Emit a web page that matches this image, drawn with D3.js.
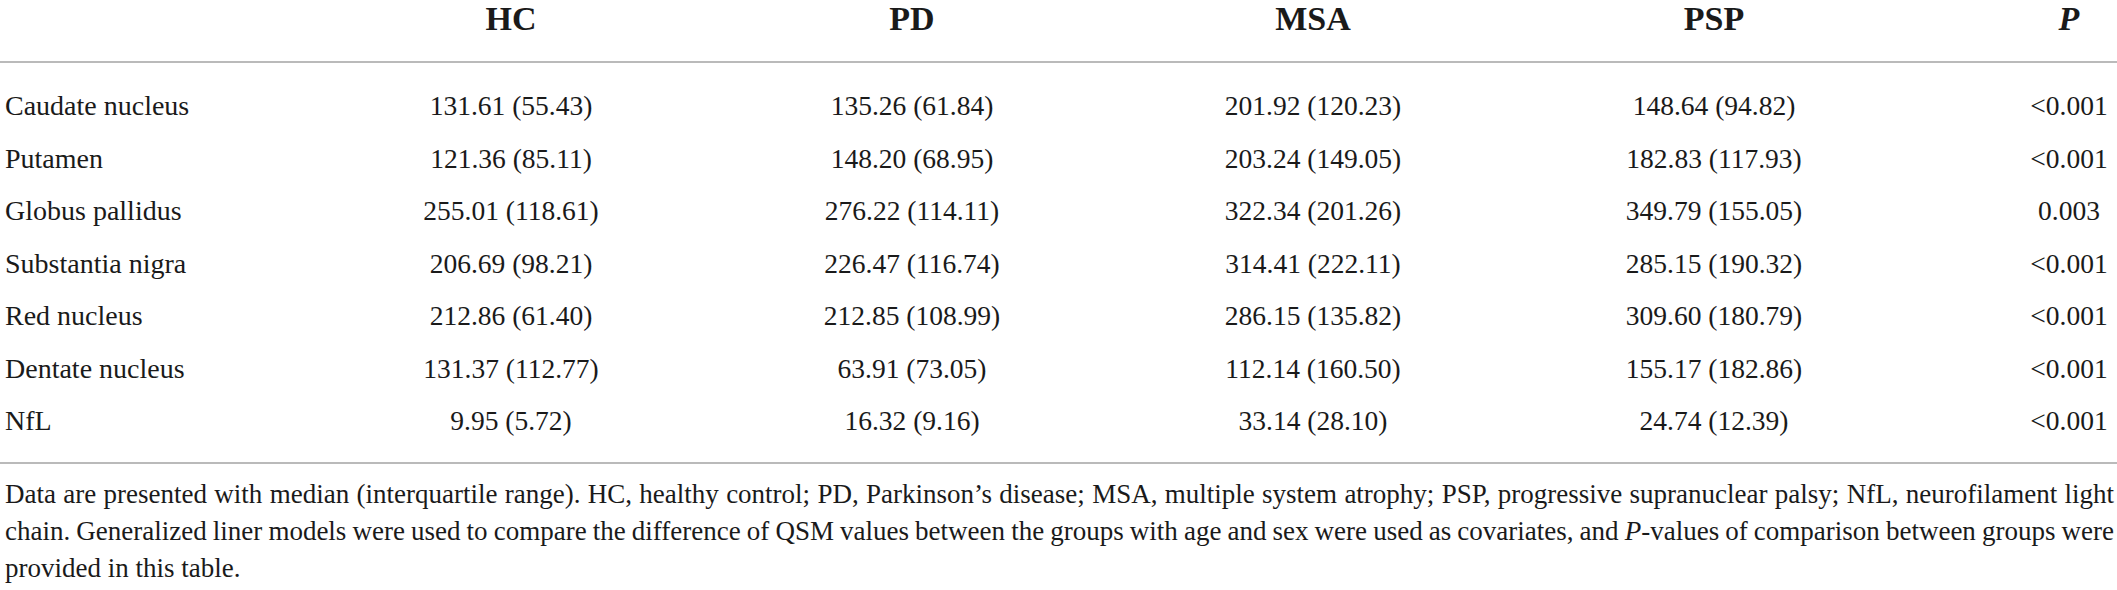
<!DOCTYPE html>
<html lang="en">
<head>
<meta charset="utf-8">
<script src="https://d3js.org/d3.v7.min.js"></script>
<title>QSM values table</title>
<style>
  body { margin: 0; background: #ffffff; }
  svg text { font-family: "Liberation Serif", "Times New Roman", serif; fill: #1a1a1a; }
</style>
</head>
<body>
<div id="container"></div>
<script>
// table data
var groups = ["HC", "PD", "MSA", "PSP"];
var structures = ["Caudate nucleus", "Putamen", "Globus pallidus", "Substantia nigra",
                  "Red nucleus", "Dentate nucleus", "NfL"];
var hcMedian  = [131.61, 121.36, 255.01, 206.69, 212.86, 131.37, 9.95];
var hcIqr     = [55.43, 85.11, 118.61, 98.21, 61.40, 112.77, 5.72];
var pdMedian  = [135.26, 148.20, 276.22, 226.47, 212.85, 63.91, 16.32];
var pdIqr     = [61.84, 68.95, 114.11, 116.74, 108.99, 73.05, 9.16];
var msaMedian = [201.92, 203.24, 322.34, 314.41, 286.15, 112.14, 33.14];
var msaIqr    = [120.23, 149.05, 201.26, 222.11, 135.82, 160.50, 28.10];
var pspMedian = [148.64, 182.83, 349.79, 285.15, 309.60, 155.17, 24.74];
var pspIqr    = [94.82, 117.93, 155.05, 190.32, 180.79, 182.86, 12.39];
var pValues   = ["<0.001", "<0.001", "0.003", "<0.001", "<0.001", "<0.001", "<0.001"];

var footnote = [
  [{t: "Data are presented with median (interquartile range). HC, healthy control; PD, Parkinson\u2019s disease; MSA, multiple system atrophy; PSP, progressive supranuclear palsy; NfL, neurofilament light"}],
  [{t: "chain. Generalized liner models were used to compare the difference of QSM values between the groups with age and sex were used as covariates, and "}, {t: "P", i: true}, {t: "-values of comparison between groups were"}],
  [{t: "provided in this table."}]
];

var medians = [hcMedian, pdMedian, msaMedian, pspMedian];
var iqrs = [hcIqr, pdIqr, msaIqr, pspIqr];

var width = 2117, height = 590;

var svg = d3.select("#container")
  .append("svg")
  .attr("width", width)
  .attr("height", height);

var x = d3.scalePoint().domain(groups).range([511, 1714]);
var pX = 2069;
var y = d3.scalePoint().domain(structures).range([115, 430]);

// header
svg.selectAll(".head")
  .data(groups)
  .enter()
  .append("text")
  .attr("class", "head")
  .attr("x", function(d) { return x(d); })
  .attr("y", 30)
  .attr("text-anchor", "middle")
  .style("font-size", "34px")
  .style("font-weight", "bold")
  .text(function(d) { return d; });

svg.append("text")
  .attr("x", pX)
  .attr("y", 30)
  .attr("text-anchor", "middle")
  .style("font-size", "34px")
  .style("font-weight", "bold")
  .style("font-style", "italic")
  .text("P");

// rules
[62, 463].forEach(function(ly) {
  svg.append("line")
    .attr("x1", 0).attr("x2", width)
    .attr("y1", ly).attr("y2", ly)
    .attr("stroke", "#a3a3a3")
    .attr("stroke-width", 1.5);
});

// row labels
svg.selectAll(".label")
  .data(structures)
  .enter()
  .append("text")
  .attr("class", "label")
  .attr("x", 5)
  .attr("y", function(d) { return y(d); })
  .style("font-size", "28px")
  .text(function(d) { return d; });

// cells
groups.forEach(function(g, gi) {
  svg.selectAll(".cell-" + g)
    .data(structures)
    .enter()
    .append("text")
    .attr("class", "cell-" + g)
    .attr("x", x(g))
    .attr("y", function(d) { return y(d); })
    .attr("text-anchor", "middle")
    .style("font-size", "27.5px")
    .text(function(d, i) {
      return medians[gi][i].toFixed(2) + " (" + iqrs[gi][i].toFixed(2) + ")";
    });
});

svg.selectAll(".pval")
  .data(structures)
  .enter()
  .append("text")
  .attr("class", "pval")
  .attr("x", pX)
  .attr("y", function(d) { return y(d); })
  .attr("text-anchor", "middle")
  .style("font-size", "27.5px")
  .text(function(d, i) { return pValues[i]; });

// footnote, first two lines justified
var noteY = [503, 540, 577];
footnote.forEach(function(parts, li) {
  var t = svg.append("text")
    .attr("x", 5)
    .attr("y", noteY[li])
    .style("font-size", "27px");
  parts.forEach(function(p) {
    t.append("tspan")
      .style("font-style", p.i ? "italic" : "normal")
      .text(p.t);
  });
  if (li < 2) {
    var natural = t.node().getComputedTextLength();
    var full = parts.map(function(p) { return p.t; }).join("");
    var spaces = full.split(" ").length - 1;
    var target = width - 8;
    t.attr("word-spacing", ((target - natural) / spaces) + "px");
  }
});
</script>
</body>
</html>
